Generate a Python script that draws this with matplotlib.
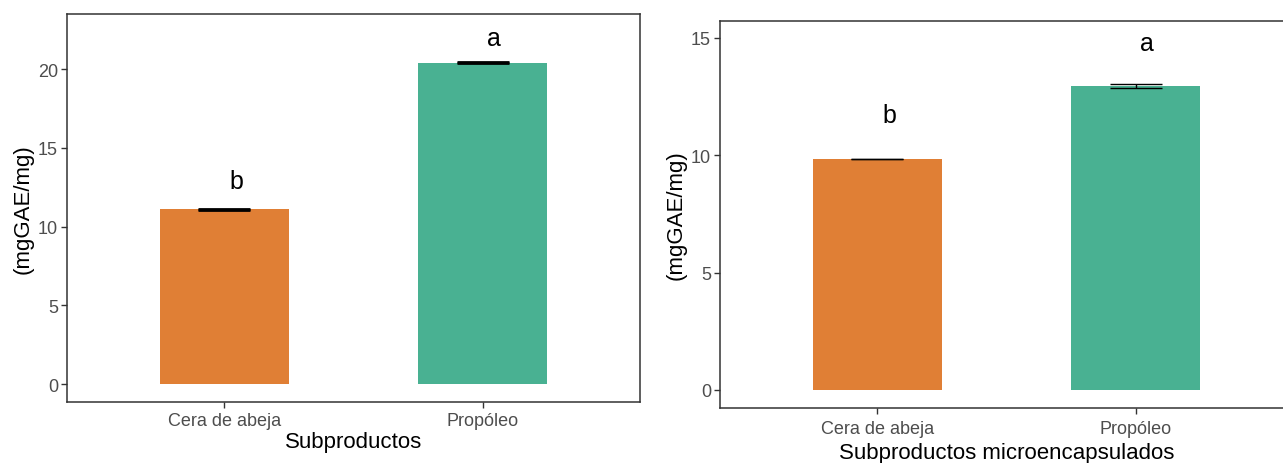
import numpy as np
import matplotlib
matplotlib.use("Agg")
import matplotlib.pyplot as plt

plt.rcParams['font.family'] = ['Liberation Sans', 'DejaVu Sans']

categorias = ["Cera de abeja", "Propóleo"]

# panel izquierdo: subproductos
valores_sub = [11.1, 20.4]
se_sub = [0.03, 0.02]
letras_sub = ["b", "a"]
pos_letra_sub = [12.9, 22.0]

# panel derecho: microencapsulados
valores_mic = [9.84, 12.95]
se_mic = [0.02, 0.09]
letras_mic = ["b", "a"]
pos_letra_mic = [11.7, 14.8]

colores = ["#D95F02", "#1B9E77"]

fig = plt.figure(figsize=(12.83, 4.64), dpi=100)
ax1 = fig.add_axes([0.0522, 0.1315, 0.4466, 0.8362])
ax2 = fig.add_axes([0.5612, 0.1185, 0.4466, 0.834])

def panel(ax, vals, se, letras, pos_letras, xlabel, ylim, yticks, lw_err, xpad, tpad):
    x = np.arange(1, len(categorias) + 1)
    ax.bar(x, vals, width=0.5, color=colores, alpha=0.8, edgecolor='none')
    ax.errorbar(x, vals, yerr=se, fmt='none', ecolor='black', elinewidth=lw_err,
                capsize=19, capthick=lw_err)
    for xi, l, p in zip(x, letras, pos_letras):
        ax.text(xi + 0.045, p, l, ha='center', va='center', fontsize=18, color='black')
    ax.set_xlim(0.39, 2.61)
    ax.set_ylim(*ylim)
    ax.set_xticks(x)
    ax.set_xticklabels(categorias)
    ax.set_yticks(yticks)
    ax.tick_params(axis='both', colors='#333333', labelcolor='#4D4D4D',
                   labelsize=13, length=4, width=1, pad=2.5)
    ax.tick_params(axis='x', pad=tpad)
    ax.set_xlabel(xlabel, fontsize=16, labelpad=xpad)
    ax.set_ylabel("(mgGAE/mg)", fontsize=16, labelpad=3)
    for s in ax.spines.values():
        s.set_color('#333333')
        s.set_linewidth(1.1)

panel(ax1, valores_sub, se_sub, letras_sub, pos_letra_sub, "Subproductos",
      (-1.14, 23.5), [0, 5, 10, 15, 20], 2.0, 2, 3)
panel(ax2, valores_mic, se_mic, letras_mic, pos_letra_mic, "Subproductos microencapsulados",
      (-0.77, 15.72), [0, 5, 10, 15], 1.0, 4, 4.5)

fig.savefig("out.png", dpi=100)
